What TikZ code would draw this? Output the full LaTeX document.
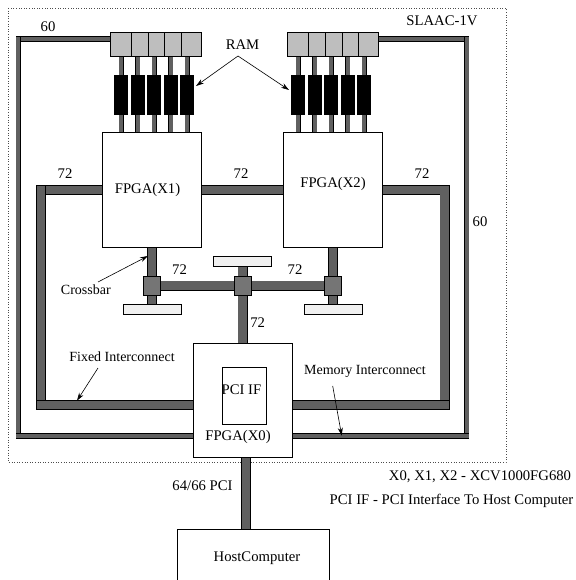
\documentclass[tikz,border=0pt]{standalone}
\usepackage{fontspec}
\setmainfont{Liberation Serif}
\usetikzlibrary{backgrounds,arrows.meta}
\definecolor{busgray}{HTML}{606060}
\definecolor{ramgray}{HTML}{BEBEBE}
\definecolor{xbargray}{HTML}{757575}
\definecolor{padgray}{HTML}{F0F0F0}
\tikzset{
  chipbox/.style={draw,fill=white,line width=.7pt,inner sep=0pt,outer sep=0pt},
  rambox/.style={chipbox,fill=ramgray,minimum height=24pt},
  memchip/.style={draw,fill=black,inner sep=0pt,outer sep=0pt,minimum width=13pt,minimum height=39pt},
  xbar/.style={chipbox,fill=xbargray,minimum width=17pt,minimum height=19pt},
  xpad/.style={chipbox,fill=padgray,minimum width=58pt,minimum height=10pt},
  lbl/.style={inner sep=0pt,font=\fontsize{14.7}{16}\selectfont},
  smalllbl/.style={inner sep=0pt,font=\fontsize{14}{16}\selectfont},
  fixlink/.style={draw=black,line width=.7pt,double=busgray,double distance=8.6pt,line cap=rect},
  memlink/.style={draw=black,line width=.7pt,double=busgray,double distance=4.1pt,line cap=rect},
  stemlink/.style={draw=black,line width=.5pt,double=busgray,double distance=4pt},
  note/.style={-{Stealth[length=8pt,width=5pt]},line width=.6pt}
}
\begin{document}
\begin{tikzpicture}[x=1pt,y=-1pt]
\useasboundingbox (0,0) rectangle (575,580);
% boards
\node[chipbox,minimum width=99pt,minimum height=114.5pt] (fpgaone) at (152,189.75) {};
\node[chipbox,minimum width=99pt,minimum height=114.5pt] (fpgatwo) at (333,189.75) {};
\node[chipbox,minimum width=99pt,minimum height=114.5pt] (fpgazero) at (242.5,400.5) {};
\node[chipbox,minimum width=44pt,minimum height=57pt] (pciif) at (244,395.5) {};
\node[chipbox,minimum width=152pt,minimum height=53pt] (host) at (253,555.5) {};
% ram
\node[rambox,minimum width=21pt] (rama1) at (121,44) {};
\node[rambox,minimum width=16.5pt] (rama2) at (139.75,44) {};
\node[rambox,minimum width=16.5pt] (rama3) at (156.25,44) {};
\node[rambox,minimum width=16.5pt] (rama4) at (172.75,44) {};
\node[rambox,minimum width=20.5pt] (rama5) at (191.25,44) {};
\node[rambox,minimum width=21pt] (ramb1) at (297.5,44) {};
\node[rambox,minimum width=17pt] (ramb2) at (316.5,44) {};
\node[rambox,minimum width=17pt] (ramb3) at (333.5,44) {};
\node[rambox,minimum width=16pt] (ramb4) at (350,44) {};
\node[rambox,minimum width=20.5pt] (ramb5) at (368.25,44) {};
\foreach \n/\x in {a1/121,a2/137.5,a3/154,a4/170.5,a5/187,b1/298,b2/314.5,b3/331,b4/347.5,b5/364}{
  \node[memchip] (chip\n) at (\x,94.5) {};
}
% crossbar
\node[xbar] (xbarl) at (152,285.5) {};
\node[xbar] (xbarm) at (242.5,285.5) {};
\node[xbar] (xbarr) at (333,285.5) {};
\node[xpad] (padl) at (152,309) {};
\node[xpad] (padm) at (242.5,261.5) {};
\node[xpad] (padr) at (333,309) {};
% route corners
\coordinate (memtl) at (18.3,38.8);
\coordinate (membl) at (18.3,436);
\coordinate (memtr) at (466.7,38.8);
\coordinate (membr) at (466.7,436);
\coordinate (fixtl) at (40.8,190);
\coordinate (fixbl) at (40.8,405);
\coordinate (fixtr) at (444.5,190);
\coordinate (fixbr) at (444.5,405);
\coordinate (busup) at (246,458);
\coordinate (busdown) at (246,527);
% links
\begin{scope}[on background layer]
\draw[dotted,line width=.6pt,black!70] (8,8) rectangle (506,462);
\draw[memlink] (rama1.west |- memtl) -- (memtl);
\draw[memlink] (memtl) -- (membl);
\draw[memlink] (membl) -- (fpgazero.west |- membl);
\draw[memlink] (ramb5.east |- memtr) -- (memtr);
\draw[memlink] (memtr) -- (membr);
\draw[memlink] (membr) -- (fpgazero.east |- membr);
\draw[fixlink] (fpgaone.west |- fixtl) -- (fixtl);
\draw[fixlink] (fixtl) -- (fixbl);
\draw[fixlink] (fixbl) -- (fpgazero.west |- fixbl);
\draw[fixlink] (fpgatwo.east |- fixtr) -- (fixtr);
\draw[fixlink] (fixtr) -- (fixbr);
\draw[fixlink] (fixbr) -- (fpgazero.east |- fixbr);
\draw[fixlink] (fpgaone.east |- fixtl) -- (fpgatwo.west |- fixtl);
\draw[fixlink] (fpgaone.south) -- (padl.north);
\draw[fixlink] (fpgatwo.south) -- (padr.north);
\draw[fixlink] (xbarl) -- (xbarr);
\draw[fixlink] (padm.south) -- (fpgazero.north);
\draw[fixlink] (busup) -- (busdown);
\foreach \n in {a1,a2,a3,a4,a5}{
  \draw[stemlink] (chip\n |- rama1.south) -- (chip\n |- fpgaone.north);
}
\foreach \n in {b1,b2,b3,b4,b5}{
  \draw[stemlink] (chip\n |- ramb1.south) -- (chip\n |- fpgatwo.north);
}
\end{scope}
% labels
\node[lbl] (lmemone) at (48,27) {60};
\node[lbl] (lmemtwo) at (480,222) {60};
\node[lbl] (lboard) at (442,21) {SLAAC-1V};
\node[lbl] (lram) at (242.5,45) {RAM};
\node[lbl] (lfixone) at (65,174) {72};
\node[lbl] (lfixtwo) at (241,174) {72};
\node[lbl] (lfixthree) at (422,174) {72};
\node[lbl] (lxbarone) at (179.5,270) {72};
\node[lbl] (lxbartwo) at (295,270) {72};
\node[lbl] (lxbarthree) at (257.7,323) {72};
\node[lbl] (lone) at (147.5,190) {FPGA(X1)};
\node[lbl] (ltwo) at (333,184) {FPGA(X2)};
\node[lbl] (lzero) at (238,437) {FPGA(X0)};
\node[lbl] (lpci) at (241.5,390) {PCI IF};
\node[lbl] (lhost) at (257,558) {HostComputer};
\node[smalllbl] (lcross) at (85.8,290) {Crossbar};
\node[smalllbl] (lfixed) at (122,357) {Fixed Interconnect};
\node[smalllbl] (lmem) at (365,371) {Memory Interconnect};
\node[lbl] (lbus) at (202.5,485.7) {64/66 PCI};
\node[lbl] (lparts) at (480,477) {X0, X1, X2 - XCV1000FG680};
\node[lbl] (lifdef) at (451.5,501) {PCI IF - PCI Interface To Host Computer};
% pointers
\coordinate (ramtop) at (238,56);
\coordinate (ramleft) at (196,86);
\coordinate (ramright) at (289,90);
\coordinate (crossfrom) at (98,282);
\coordinate (crossto) at (148,256);
\coordinate (fixedfrom) at (98,368);
\coordinate (fixedto) at (77,400.7);
\coordinate (memfrom) at (332.7,386);
\coordinate (memto) at (341.7,435.7);
\draw[note] (ramtop) -- (ramleft);
\draw[note] (ramtop) -- (ramright);
\draw[note] (crossfrom) -- (crossto);
\draw[note] (fixedfrom) -- (fixedto);
\draw[note] (memfrom) -- (memto);
\end{tikzpicture}
\end{document}
